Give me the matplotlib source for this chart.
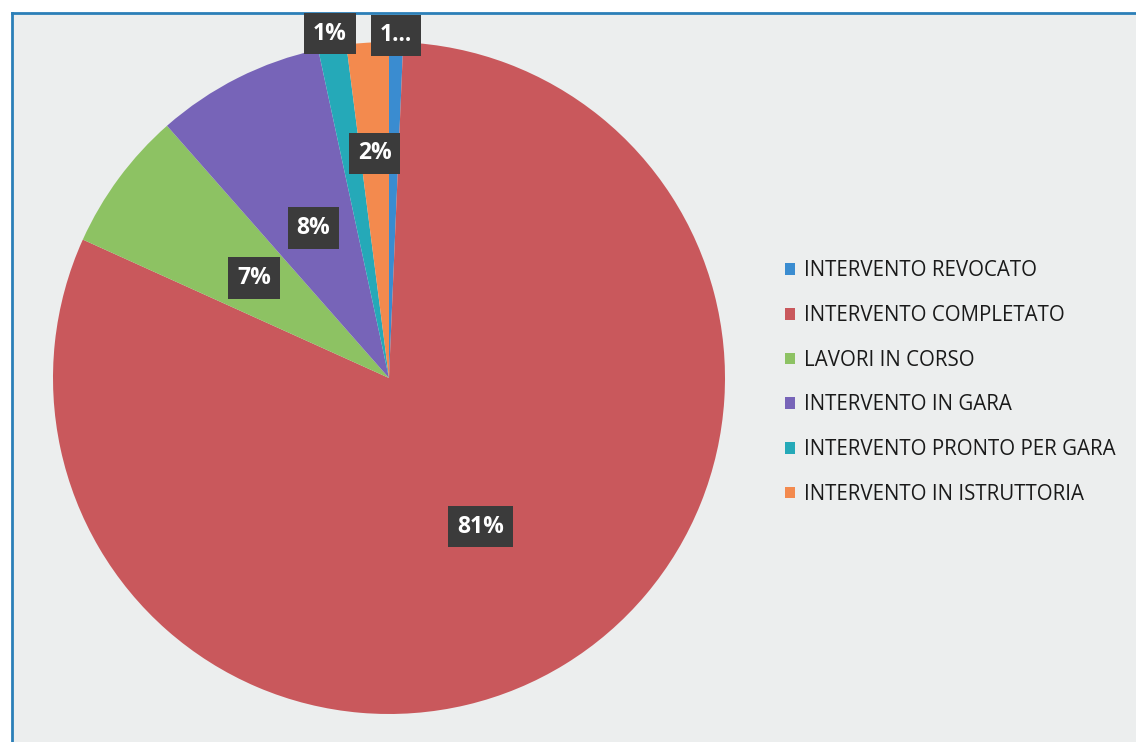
import matplotlib.pyplot as plt
import numpy as np

plt.rcParams['font.family'] = ['Open Sans', 'DejaVu Sans']

# categories in legend / pie order (clockwise from 12 o'clock)
categories = ['INTERVENTO REVOCATO', 'INTERVENTO COMPLETATO', 'LAVORI IN CORSO',
              'INTERVENTO IN GARA', 'INTERVENTO PRONTO PER GARA', 'INTERVENTO IN ISTRUTTORIA']
counts = [1, 120, 10, 12, 2, 3]
pct_labels = ['1...', '81%', '7%', '8%', '1%', '2%']
colors = ['#3a8cd0', '#c9585c', '#8dc263', '#7764b8', '#25a9b8', '#f38a4e']

# radial distance of each data label (fraction of radius)
label_dist = [1.02, 0.52, 0.50, 0.50, 1.04, 0.67]

fig = plt.figure(figsize=(11.36, 7.42), dpi=100)
fig.patch.set_facecolor('white')

# scanned chart area background + blue frame
bg = fig.add_axes([12/1136, 0, 1 - 12/1136, 1 - 13/742])
bg.set_facecolor('#eceeee')
bg.set_xticks([])
bg.set_yticks([])
for s in ['right', 'bottom']:
    bg.spines[s].set_visible(False)
for s in ['left', 'top']:
    bg.spines[s].set_color('#2b7fb8')
    bg.spines[s].set_linewidth(2)

# pie axes: center (389, 378), radius ~336 px
r = 336
cx, cy = 389, 378
ax = fig.add_axes([(cx - r)/1136, 1 - (cy + r)/742, 2*r/1136, 2*r/742])
wedges, _ = ax.pie(counts, colors=colors, startangle=90, counterclock=False,
                   radius=1, wedgeprops=dict(linewidth=0))
ax.set_xlim(-1, 1)
ax.set_ylim(-1, 1)
ax.set_aspect('equal')
ax.axis('off')

for w, lab, d in zip(wedges, pct_labels, label_dist):
    ang = np.deg2rad((w.theta1 + w.theta2) / 2)
    ax.text(d*np.cos(ang), d*np.sin(ang), lab, ha='center', va='center',
            color='white', fontsize=16.5, fontweight='bold', clip_on=False,
            bbox=dict(boxstyle='square,pad=0.38', fc='#3b3b3b', ec='none'))

leg = fig.legend(wedges, categories, loc='upper left',
                 bbox_to_anchor=(766/1136, 1 - 242/742), frameon=False,
                 fontsize=14.8, handlelength=0.5, handleheight=0.5,
                 handletextpad=0.45, labelspacing=1.15)
for t in leg.get_texts():
    t.set_color('#1a1a1a')

plt.savefig('out.png', dpi=100)
